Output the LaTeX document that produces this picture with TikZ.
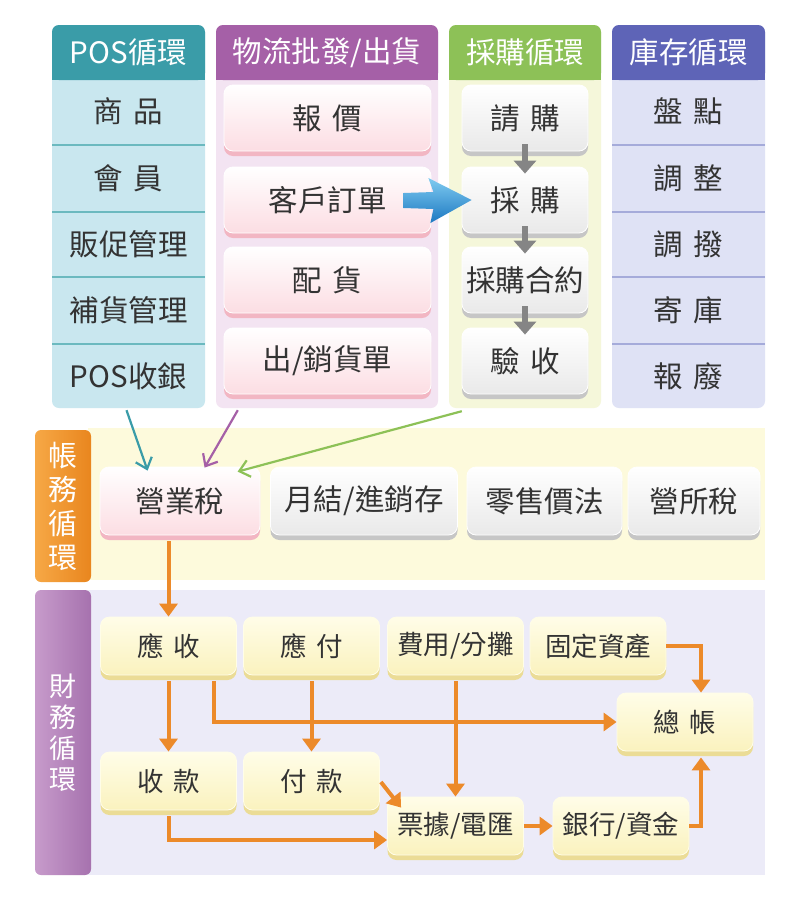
\documentclass[tikz,border=0pt]{standalone}
\usepackage{fontspec}
\setmainfont{Noto Sans CJK TC}
\usetikzlibrary{arrows.meta,shadows,calc}

\definecolor{ink}{HTML}{333333}
% column colours
\definecolor{posH}{HTML}{3A9CA8}
\definecolor{posB}{HTML}{C9E7EF}
\definecolor{posL}{HTML}{6BB9BF}
\definecolor{wlH}{HTML}{A560A7}
\definecolor{wlB}{HTML}{F3E4F2}
\definecolor{cgH}{HTML}{8DC157}
\definecolor{cgB}{HTML}{F5F7DA}
\definecolor{invH}{HTML}{5E64B7}
\definecolor{invB}{HTML}{DFE2F5}
\definecolor{invL}{HTML}{A5ABDA}
% boxes
\definecolor{pinkB}{HTML}{FCDDE3}
\definecolor{pinkS}{HTML}{F2B6C3}
\definecolor{greyB}{HTML}{E9E9E9}
\definecolor{greyS}{HTML}{C6C6C6}
\definecolor{yelT}{HTML}{FFFDE8}
\definecolor{yelB}{HTML}{FAF2BE}
\definecolor{yelS}{HTML}{EBDC96}
% bands
\definecolor{acctBg}{HTML}{FDFADC}
\definecolor{finBg}{HTML}{ECEBF8}
\definecolor{orL}{HTML}{F6A846}
\definecolor{orD}{HTML}{E9861E}
\definecolor{puL}{HTML}{C79BCB}
\definecolor{puD}{HTML}{A672AE}
\definecolor{orangeA}{HTML}{EC8A2A}
\definecolor{blueL}{HTML}{7FCBF0}
\definecolor{blueD}{HTML}{1C78C2}
\definecolor{arrGrey}{HTML}{858585}

\newcommand\gp{\hspace{0.35em}}

\begin{document}
\begin{tikzpicture}[x=1pt,y=-1pt,
  txt/.style={text=ink, inner sep=0pt, font=\fontsize{29.5}{34}\selectfont},
  headtxt/.style={text=white, inner sep=0pt, font=\fontsize{29.5}{34}\selectfont},
  colbg/.style={rounded corners=7pt, inner sep=0pt, draw=none, minimum height=383pt},
  boxbase/.style={rounded corners=9pt, inner sep=0pt, text=ink, line width=0.8pt,
    draw=white, font=\fontsize{29.5}{34}\selectfont},
  pinkbox/.style={boxbase, top color=white, bottom color=pinkB,
    general shadow={fill=pinkS, shadow yshift=-5pt}},
  greybox/.style={boxbase, top color=white, bottom color=greyB,
    general shadow={fill=greyS, shadow yshift=-5pt}},
  yelbox/.style={boxbase, top color=yelT, bottom color=yelB, draw=yelT,
    general shadow={fill=yelS, shadow yshift=-5pt},
    minimum width=136pt, minimum height=58pt, font=\fontsize{26.5}{30}\selectfont},
  bandlabel/.style={rounded corners=6pt, inner sep=0pt, align=center,
    minimum width=56pt},
  oarrow/.style={draw=orangeA, line width=4pt, -{Triangle[length=13pt,width=18pt]}},
  garrow/.style={draw=arrGrey, line width=6pt, -{Triangle[length=13pt,width=22pt]}},
  thinarrow/.style={line width=2.2pt, -{Straight Barb[length=10pt,width=17pt]}},
]
\useasboundingbox (0,0) rectangle (800,900);
\fill[white] (0,0) rectangle (800,900);

% ---------- column backgrounds ----------
\node[colbg, fill=posB, minimum width=153pt] (poscol) at (128.5,216.5) {};
\node[colbg, fill=wlB,  minimum width=222pt] (wlcol)  at (327,216.5) {};
\node[colbg, fill=cgB,  minimum width=152pt] (cgcol)  at (525,216.5) {};
\node[colbg, fill=invB, minimum width=153pt] (invcol) at (688.5,216.5) {};

% ---------- column headers ----------
\foreach \xa/\xb/\c in {52/205/posH, 216/438/wlH, 449/601/cgH, 612/765/invH}{
  \fill[\c, rounded corners=7pt] (\xa,25) rectangle (\xb,80);
  \fill[\c] (\xa,66) rectangle (\xb,80);
}
\node[headtxt] (poshead) at (128.5,52.5) {POS循環};
\node[headtxt] (wlhead)  at (327,52.5)   {物流批發/出貨};
\node[headtxt] (cghead)  at (525,52.5)   {採購循環};
\node[headtxt] (invhead) at (688.5,52.5) {庫存循環};

% ---------- row separators ----------
\foreach \yy in {145,212,277,344}{
  \draw[posL, line width=2pt] (52,\yy) -- (205,\yy);
  \draw[invL, line width=2pt] (612,\yy) -- (765,\yy);
}

% ---------- POS rows ----------
\node[txt] (pos1) at (128.5,111) {商\gp 品};
\node[txt] (pos2) at (128.5,178) {會\gp 員};
\node[txt] (pos3) at (128.5,244) {販促管理};
\node[txt] (pos4) at (128.5,310) {補貨管理};
\node[txt] (pos5) at (128.5,376) {POS收銀};

% ---------- inventory rows ----------
\node[txt] (inv1) at (688.5,111) {盤\gp 點};
\node[txt] (inv2) at (688.5,178) {調\gp 整};
\node[txt] (inv3) at (688.5,244) {調\gp 撥};
\node[txt] (inv4) at (688.5,310) {寄\gp 庫};
\node[txt] (inv5) at (688.5,376) {報\gp 廢};

% ---------- logistics boxes ----------
\node[pinkbox, minimum width=207pt, minimum height=66pt] (quote) at (327.5,118) {報\gp 價};
\node[pinkbox, minimum width=207pt, minimum height=66pt] (order) at (327.5,200) {客戶訂單};
\node[pinkbox, minimum width=207pt, minimum height=66pt] (alloc) at (327.5,280) {配\gp 貨};
\node[pinkbox, minimum width=207pt, minimum height=66pt] (ship)  at (327.5,361) {出/銷貨單};

% ---------- purchasing boxes ----------
\node[greybox, minimum width=126pt, minimum height=66pt] (req)   at (525,118) {請\gp 購};
\node[greybox, minimum width=126pt, minimum height=66pt] (purch) at (525,200) {採\gp 購};
\node[greybox, minimum width=126pt, minimum height=66pt] (contr) at (525,280) {採購合約};
\node[greybox, minimum width=126pt, minimum height=66pt] (recv)  at (525,361) {驗\gp 收};

\draw[garrow] ($(req.south)+(0,-7)$)   -- ($(purch.north)+(0,7)$);
\draw[garrow] ($(purch.south)+(0,-7)$) -- ($(contr.north)+(0,7)$);
\draw[garrow] ($(contr.south)+(0,-7)$) -- ($(recv.north)+(0,7)$);

% ---------- order to purchase ----------
\coordinate (bt) at ($(order.east)+(-28,0)$);
\coordinate (bh) at ($(purch.west)+(10,0)$);
\shade[top color=blueL, bottom color=blueD]
  ($(bt)+(0,-7)$) -- ($(bt)+(30,-8)$) -- ($(bt)+(25,-22)$) -- (bh)
  -- ($(bt)+(27,23)$) -- ($(bt)+(30,9)$) -- ($(bt)+(0,8)$) -- cycle;

% ---------- accounting band ----------
\fill[acctBg] (88,428) rectangle (765,580);
\node[bandlabel, left color=orL, right color=orD, minimum height=152pt,
  text=white, font=\fontsize{29}{34}\selectfont] (acct) at (63,506) {帳\\務\\循\\環};

\node[pinkbox, minimum width=160pt, minimum height=68pt] (biz)    at (180,501) {營業稅};
\node[greybox, minimum width=187pt, minimum height=68pt] (month)  at (364,501) {月結/進銷存};
\node[greybox, minimum width=155pt, minimum height=68pt] (retail) at (544.5,501) {零售價法};
\node[greybox, minimum width=132pt, minimum height=68pt] (corp)   at (694,501) {營所稅};

\draw[thinarrow, posH] ($(poscol.south)+(-2,2)$) -- ($(biz.north west)+(48,4)$);
\draw[thinarrow, wlH]  ($(wlcol.south west)+(22,2)$) -- ($(biz.north west)+(105,1)$);
\draw[thinarrow, cgH]  ($(cgcol.south west)+(13,3)$) -- ($(biz.north west)+(138,5)$);

% ---------- finance band ----------
\fill[finBg] (88,590) rectangle (765,875);
\node[bandlabel, left color=puL, right color=puD, minimum height=285pt,
  text=white, font=\fontsize{27}{31}\selectfont] (fin) at (63,732.5) {財\\務\\循\\環};

\node[yelbox] (ar)   at (168.5,646) {應\gp 收};
\node[yelbox] (ap)   at (311.5,646) {應\gp 付};
\node[yelbox] (fee)  at (455.5,646) {費用/分攤};
\node[yelbox] (fa)   at (598,646)   {固定資產};
\node[yelbox] (gl)   at (685,722)   {總\gp 帳};
\node[yelbox] (rc)   at (168.5,781) {收\gp 款};
\node[yelbox] (pay)  at (311.5,781) {付\gp 款};
\node[yelbox] (bill) at (455.5,826) {票據/電匯};
\node[yelbox] (bank) at (621,826)   {銀行/資金};

\draw[oarrow] ($(biz.south)+(-11.5,6)$) -- (ar.north);
\draw[oarrow] ($(ar.south)+(0,6)$) -- (rc.north);
\draw[oarrow] ($(ar.south)+(45,6)$) |- (gl.west);
\draw[oarrow] ($(ap.south)+(0,6)$) -- (pay.north);
\draw[oarrow] ($(fee.south)+(0,6)$) -- (bill.north);
\draw[oarrow] (fa.east) -| ($(gl.north)+(16,0)$);
\draw[oarrow] ($(pay.east)+(1,1)$) -- ($(bill.north west)+(14,11)$);
\draw[oarrow] ($(rc.south)+(0,6)$) |- ($(bill.west)+(0,14)$);
\draw[oarrow] (bill.east) -- (bank.west);
\draw[oarrow] (bank.east) -| ($(gl.south)+(16,6)$);

\end{tikzpicture}
\end{document}
